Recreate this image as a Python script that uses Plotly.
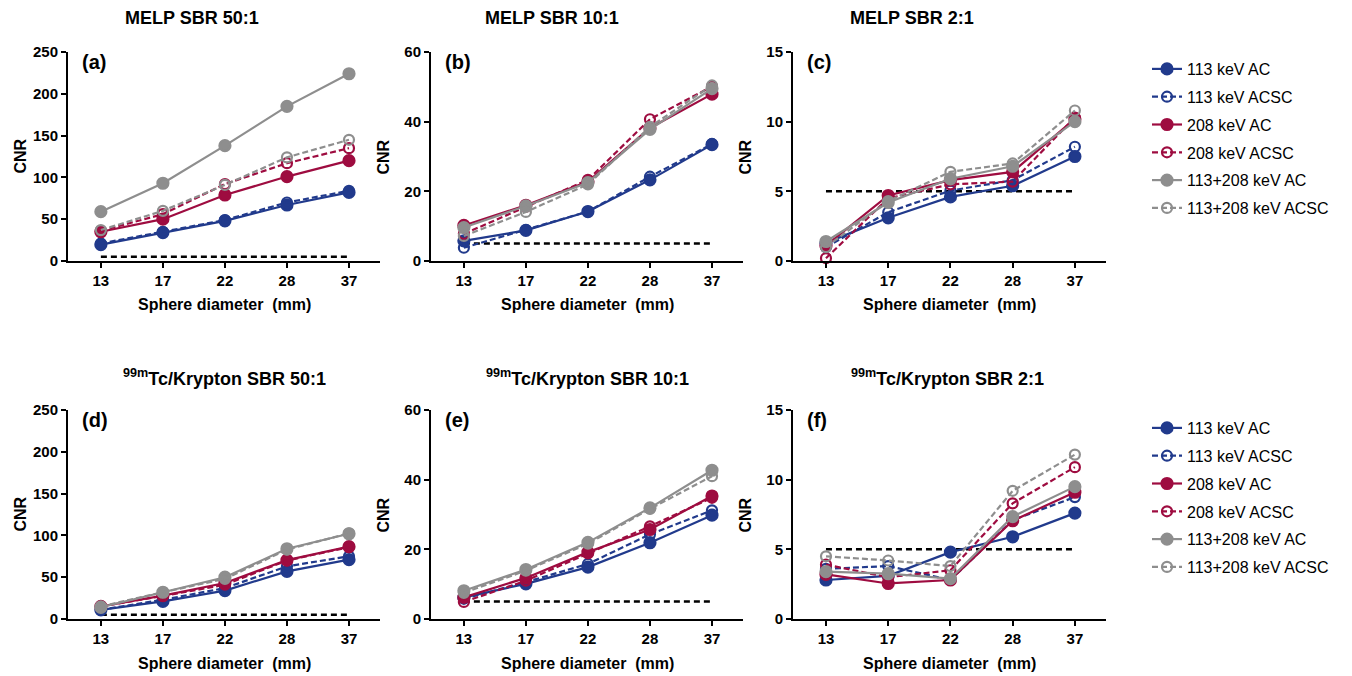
import plotly.graph_objects as go

W, H = 1352, 676

diam = ["13", "17", "22", "28", "37"]
series_names = ["113 keV AC", "113 keV ACSC", "208 keV AC", "208 keV ACSC",
                "113+208 keV AC", "113+208 keV ACSC"]

# (a) MELP SBR 50:1
a_113_ac = [19.5, 34, 48, 67, 82]
a_113_acsc = [21, 35, 49, 70, 84]
a_208_ac = [35, 50, 79, 101, 120]
a_208_acsc = [36, 56, 92, 117, 135]
a_comb_ac = [59, 93, 138, 185, 224]
a_comb_acsc = [37, 60, 91, 124, 145]
# (b) MELP SBR 10:1
b_113_ac = [5.8, 8.8, 14.2, 23.3, 33.4]
b_113_acsc = [3.8, 8.9, 14.2, 24.2, 33.6]
b_208_ac = [10.2, 16, 22.8, 38.2, 47.9]
b_208_acsc = [7.8, 15.6, 23.3, 40.7, 50.1]
b_comb_ac = [9.6, 15.8, 22.5, 37.8, 49.5]
b_comb_acsc = [7.2, 14.1, 22, 38.5, 50.4]
# (c) MELP SBR 2:1
c_113_ac = [1.3, 3.1, 4.6, 5.4, 7.5]
c_113_acsc = [1.0, 3.5, 5.05, 5.8, 8.2]
c_208_ac = [1.1, 4.7, 5.8, 6.4, 10.2]
c_208_acsc = [0.2, 4.5, 5.5, 5.7, 10.3]
c_comb_ac = [1.4, 4.2, 5.9, 6.8, 10.0]
c_comb_acsc = [1.0, 4.3, 6.4, 7.0, 10.8]
# (d) 99mTc/Krypton SBR 50:1
d_113_ac = [11, 21, 34, 57, 71]
d_113_acsc = [11, 23, 37, 63, 75]
d_208_ac = [15, 28, 43, 70.5, 86.5]
d_208_acsc = [15, 27.5, 41, 70, 86]
d_comb_ac = [14, 32, 50, 84, 102]
d_comb_acsc = [15, 32, 48, 83, 102.5]
# (e) 99mTc/Krypton SBR 10:1
e_113_ac = [6.2, 10.1, 14.9, 21.9, 29.8]
e_113_acsc = [5.8, 10.6, 15.8, 24.3, 31.2]
e_208_ac = [6.2, 11.8, 19.2, 25.7, 35.3]
e_208_acsc = [4.9, 11.0, 18.8, 26.6, 34.8]
e_comb_ac = [8.1, 14.2, 22.0, 31.9, 42.7]
e_comb_acsc = [7.5, 13.9, 21.6, 31.6, 41.0]
# (f) 99mTc/Krypton SBR 2:1
f_113_ac = [2.8, 3.1, 4.8, 5.9, 7.6]
f_113_acsc = [3.6, 3.8, 2.8, 7.1, 8.75]
f_208_ac = [3.2, 2.55, 2.8, 7.05, 9.1]
f_208_acsc = [3.9, 3.0, 3.5, 8.3, 10.9]
f_comb_ac = [3.4, 3.25, 2.9, 7.35, 9.5]
f_comb_acsc = [4.5, 4.2, 3.8, 9.2, 11.8]

threshold_x = ["13", "37"]
threshold_y = [5, 5]

panel_titles = ["MELP SBR 50:1", "MELP SBR 10:1", "MELP SBR 2:1",
                "<sup>99m</sup>Tc/Krypton SBR 50:1", "<sup>99m</sup>Tc/Krypton SBR 10:1",
                "<sup>99m</sup>Tc/Krypton SBR 2:1"]
panel_labels = ["(a)", "(b)", "(c)", "(d)", "(e)", "(f)"]
y_max = [250, 60, 15, 250, 60, 15]
y_dtick = [50, 20, 5, 50, 20, 5]

panels = [
    [a_113_ac, a_113_acsc, a_208_ac, a_208_acsc, a_comb_ac, a_comb_acsc],
    [b_113_ac, b_113_acsc, b_208_ac, b_208_acsc, b_comb_ac, b_comb_acsc],
    [c_113_ac, c_113_acsc, c_208_ac, c_208_acsc, c_comb_ac, c_comb_acsc],
    [d_113_ac, d_113_acsc, d_208_ac, d_208_acsc, d_comb_ac, d_comb_acsc],
    [e_113_ac, e_113_acsc, e_208_ac, e_208_acsc, e_comb_ac, e_comb_acsc],
    [f_113_ac, f_113_acsc, f_208_ac, f_208_acsc, f_comb_ac, f_comb_acsc],
]

BLUE = "#213a8c"
RED = "#9e0c40"
GRAY = "#8e8e8e"
colors = [BLUE, BLUE, RED, RED, GRAY, GRAY]
is_open = [False, True, False, True, False, True]

FONT = "Liberation Sans, Arial, sans-serif"

# pixel geometry of each plot area (left, right, top, bottom)
px_x = [(68, 380), (431, 743), (793, 1106)]
px_y_top = (52, 261)
px_y_bot = (410, 619)

fig = go.Figure()
layout = {}
annotations = []

for p in range(6):
    col = p % 3
    row = p // 3
    xl, xr = px_x[col]
    yt, yb = px_y_top if row == 0 else px_y_bot
    idx = "" if p == 0 else str(p + 1)
    xa, ya = "x" + idx, "y" + idx
    layout["xaxis" + idx] = dict(
        domain=[xl / W, xr / W], anchor=ya, type="category",
        categoryorder="array", categoryarray=diam, automargin=False,
        range=[-0.53, 4.5], showline=True, linecolor="black", linewidth=2,
        ticks="outside", ticklen=5, tickwidth=2, tickcolor="black",
        showgrid=False, zeroline=False,
        tickfont=dict(family=FONT, size=15, color="black", weight="bold"),
    )
    layout["yaxis" + idx] = dict(
        domain=[1 - yb / H, 1 - yt / H], anchor=xa, automargin=False,
        range=[0, y_max[p]], dtick=y_dtick[p], showline=True, linecolor="black",
        linewidth=2, ticks="outside", ticklen=5, tickwidth=2, tickcolor="black",
        showgrid=False, zeroline=False,
        tickfont=dict(family=FONT, size=15, color="black", weight="bold"),
    )
    # threshold line
    fig.add_trace(go.Scatter(
        x=threshold_x, y=threshold_y, xaxis=xa, yaxis=ya, mode="lines",
        line=dict(color="black", width=2.5, dash="6px,4px"), showlegend=False,
        hoverinfo="skip"))
    legend_name = "legend" if row == 0 else "legend2"
    for s in range(6):
        fig.add_trace(go.Scatter(
            x=diam, y=panels[p][s], xaxis=xa, yaxis=ya, mode="lines+markers",
            name=series_names[s],
            line=dict(color=colors[s], width=2.2, dash="6px,3px" if is_open[s] else "solid"),
            marker=dict(
                symbol="circle-open" if is_open[s] else "circle",
                size=10 if is_open[s] else 11, color=colors[s],
                line=dict(color=colors[s], width=2.2)),
            cliponaxis=False,
            showlegend=(col == 0), legend=legend_name,
            legendgroup=f"{row}_{s}",
        ))
    # panel label
    annotations.append(dict(
        x=(xl + 12) / W, y=1 - (yt + 10) / H, xref="paper", yref="paper",
        text="<b>" + panel_labels[p] + "</b>", showarrow=False,
        xanchor="left", yanchor="middle",
        font=dict(family=FONT, size=20, color="black")))
    # y axis title
    annotations.append(dict(
        x=(xl - 48) / W, y=1 - ((yt + yb) / 2) / H, xref="paper", yref="paper",
        text="<b>CNR</b>", showarrow=False, textangle=-90,
        xanchor="center", yanchor="middle",
        font=dict(family=FONT, size=16, color="black")))
    # x axis title
    annotations.append(dict(
        x=((xl + xr) / 2) / W, y=1 - (yb + 44) / H, xref="paper", yref="paper",
        text="<b>Sphere diameter\u00a0\u00a0(mm)</b>", showarrow=False,
        xanchor="center", yanchor="middle",
        font=dict(family=FONT, size=16, color="black")))

# panel titles
title_cx = [192, 552, 912, 224, 587, 947]
title_cy = [18, 18, 18, 377, 377, 377]
for p in range(6):
    annotations.append(dict(
        x=title_cx[p] / W, y=1 - title_cy[p] / H, xref="paper", yref="paper",
        text="<b>" + panel_titles[p] + "</b>", showarrow=False,
        xanchor="center", yanchor="middle",
        font=dict(family=FONT, size=18, color="black")))

legend_common = dict(
    xref="paper", yref="paper", xanchor="left", yanchor="top",
    font=dict(family=FONT, size=16, color="black"),
    bgcolor="rgba(0,0,0,0)", itemwidth=30, tracegroupgap=4,
)

fig.update_layout(
    width=W, height=H, margin=dict(l=0, r=0, t=0, b=0, autoexpand=False),
    paper_bgcolor="white", plot_bgcolor="white",
    annotations=annotations,
    legend=dict(x=1147 / W, y=1 - 52 / H, **legend_common),
    legend2=dict(x=1147 / W, y=1 - 411 / H, **legend_common),
    **layout,
)

fig.write_html(
    "out.html",
    config={"displayModeBar": False},
    post_script="document.body.style.margin='0';document.body.style.overflow='hidden';",
)
